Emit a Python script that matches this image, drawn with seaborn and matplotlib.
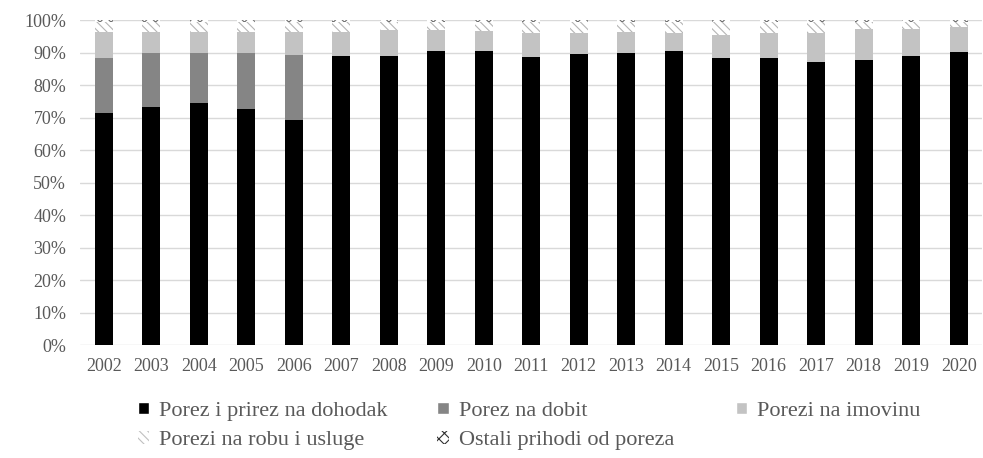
import pandas as pd
import matplotlib.pyplot as plt
import seaborn as sns
from matplotlib.patches import Patch

# shares of tax revenue (%)
years = [str(y) for y in range(2002, 2021)]
income = [71.3, 73.3, 74.6, 72.5, 69.2, 88.9, 89.0, 90.4, 90.5, 88.6, 89.6, 90.0, 90.6, 88.2, 88.2, 87.0, 87.7, 88.9, 90.1]
profit = [16.9, 16.7, 15.4, 17.5, 20.0, 0, 0, 0, 0, 0, 0, 0, 0, 0, 0, 0, 0, 0, 0]
property_tax = [8.0, 6.2, 6.2, 6.3, 7.2, 7.5, 8.0, 6.6, 6.0, 7.5, 6.5, 6.2, 5.5, 7.2, 7.9, 9.1, 9.5, 8.3, 7.7]
other = [0.7] * 19
goods = [100 - a - b - c - d for a, b, c, d in zip(income, profit, property_tax, other)]

labels = ["Porez i prirez na dohodak", "Porez na dobit", "Porezi na imovinu",
          "Porezi na robu i usluge", "Ostali prihodi od poreza"]

df = pd.DataFrame({"year": years, "income": income, "profit": profit,
                   "property": property_tax, "goods": goods, "other": other})
df["c1"] = df["income"]
df["c2"] = df["c1"] + df["profit"]
df["c3"] = df["c2"] + df["property"]
df["c4"] = df["c3"] + df["goods"]
df["c5"] = df["c4"] + df["other"]

sns.set_style("whitegrid")
plt.rcParams["font.family"] = ["Liberation Serif", "DejaVu Serif"]
plt.rcParams["hatch.linewidth"] = 0.8

fig = plt.figure(figsize=(9.83, 4.58), dpi=100)
ax = fig.add_axes([0.0814, 0.2467, 0.918, 0.7096])

w = 0.38
# stacked bars drawn as overlapping cumulative totals, top layer first
sns.barplot(data=df, x="year", y="c5", color="white", edgecolor="#707070", hatch="xxx",
            linewidth=0, width=w, saturation=1, errorbar=None, ax=ax)
sns.barplot(data=df, x="year", y="c4", color="white", edgecolor="#b5b5b5", hatch="\\\\\\\\",
            linewidth=0, width=w, saturation=1, errorbar=None, ax=ax)
sns.barplot(data=df, x="year", y="c3", color="#c3c3c3", linewidth=0, width=w,
            saturation=1, errorbar=None, ax=ax)
sns.barplot(data=df, x="year", y="c2", color="#858585", linewidth=0, width=w,
            saturation=1, errorbar=None, ax=ax)
sns.barplot(data=df, x="year", y="c1", color="black", linewidth=0, width=w,
            saturation=1, errorbar=None, ax=ax)

ax.set_ylim(0, 100)
ax.set_xlim(-0.5, 18.5)
ax.set_yticks(range(0, 101, 10))
ax.set_yticklabels([f"{v}%" for v in range(0, 101, 10)])
ax.set_xlabel("")
ax.set_ylabel("")
ax.grid(axis="x", visible=False)
ax.grid(axis="y", color="#d9d9d9", linewidth=1)
ax.set_axisbelow(True)
for s in ax.spines.values():
    s.set_visible(False)
ax.tick_params(axis="both", length=0, labelsize=13, labelcolor="#595959")
ax.tick_params(axis="x", pad=9)
ax.tick_params(axis="y", pad=10)

handles = [Patch(facecolor="black"), Patch(facecolor="#858585"), Patch(facecolor="#c3c3c3"),
           Patch(facecolor="white", edgecolor="#c0c0c0", hatch="\\\\\\\\", linewidth=0),
           Patch(facecolor="white", edgecolor="#303030", hatch="xxx", linewidth=0)]

leg_kw = dict(loc="upper left", frameon=False, fontsize=16, borderpad=0, borderaxespad=0,
              handlelength=0.5, handleheight=0.5, handletextpad=0.45, labelspacing=0.45,
              labelcolor="#595959")
fig.legend([handles[0], handles[3]], [labels[0], labels[3]], bbox_to_anchor=(0.140, 0.123), **leg_kw)
fig.legend([handles[1], handles[4]], [labels[1], labels[4]], bbox_to_anchor=(0.445, 0.123), **leg_kw)
fig.legend([handles[2]], [labels[2]], bbox_to_anchor=(0.749, 0.123), **leg_kw)

fig.savefig("out.png", dpi=100)
